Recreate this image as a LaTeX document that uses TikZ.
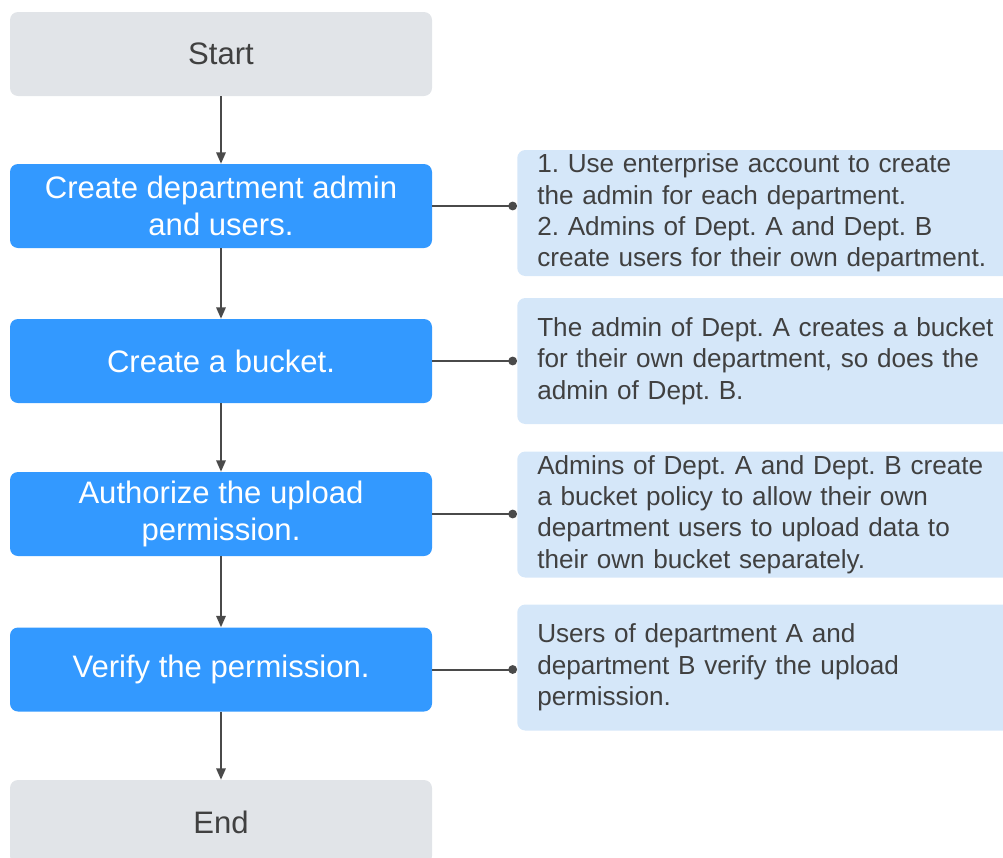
\documentclass[tikz,border=0pt]{standalone}
\usepackage{fontspec}
\setmainfont{Liberation Sans}
\frenchspacing
\usetikzlibrary{arrows.meta}
\definecolor{grayfill}{HTML}{E1E4E8}
\definecolor{bluefill}{HTML}{3399FF}
\definecolor{notefill}{HTML}{D5E7F9}
\definecolor{txtdark}{HTML}{404040}
\definecolor{linec}{HTML}{4A4A4A}
\tikzset{
  boxbase/.style={rounded corners=6pt, minimum width=316.5pt, minimum height=63pt,
    align=center, inner sep=0pt, font=\fontsize{23.3pt}{27.75pt}\selectfont},
  termbox/.style={boxbase, fill=grayfill, text=txtdark},
  stepbox/.style={boxbase, fill=bluefill, text=white},
  notebox/.style={rounded corners=6pt, fill=notefill, text=txtdark, anchor=west,
    minimum height=94.5pt, text width=360pt, inner xsep=15pt, inner ysep=0pt,
    align=left, font=\fontsize{19.6pt}{23.6pt}\selectfont},
  flow/.style={draw=linec, line width=1.5pt, -{Triangle[length=8.5pt,width=7pt]}},
  link/.style={draw=linec, line width=1.5pt, -{Circle[length=6.5pt]}}
}
\begin{document}
\begin{tikzpicture}[x=0.75pt,y=-0.75pt]
\useasboundingbox (0,0) rectangle (1003,857);
\node[termbox] (start) at (221,54) {Start};
\node[stepbox] (b1) at (221,206) {Create department admin\\and users.};
\node[stepbox] (b2) at (221,361) {Create a bucket.};
\node[stepbox] (b3) at (221,514) {Authorize the upload\\permission.};
\node[stepbox] (b4) at (221,669.5) {Verify the permission.};
\node[termbox] (end) at (221,822) {End};

\node[notebox] (n1) at (517,213) {1. Use enterprise account to create\\the admin for each department.\\2. Admins of Dept. A and Dept. B\\create users for their own department.};
\node[notebox] (n2) at (517,361) {The admin of Dept. A creates a bucket\\for their own department, so does the\\admin of Dept. B.};
\node[notebox] (n3) at (517,514.5) {Admins of Dept. A and Dept. B create\\a bucket policy to allow their own\\department users to upload data to\\their own bucket separately.};
\node[notebox] (n4) at (517,667.5) {Users of department A and\\department B verify the upload\\permission.};

\draw[flow] (start) -- (b1);
\draw[flow] (b1) -- (b2);
\draw[flow] (b2) -- (b3);
\draw[flow] (b3) -- (b4);
\draw[flow] (b4) -- (end);

\draw[link] (b1.east) -- (b1.east -| n1.west);
\draw[link] (b2.east) -- (b2.east -| n2.west);
\draw[link] (b3.east) -- (b3.east -| n3.west);
\draw[link] (b4.east) -- (b4.east -| n4.west);
\end{tikzpicture}
\end{document}
